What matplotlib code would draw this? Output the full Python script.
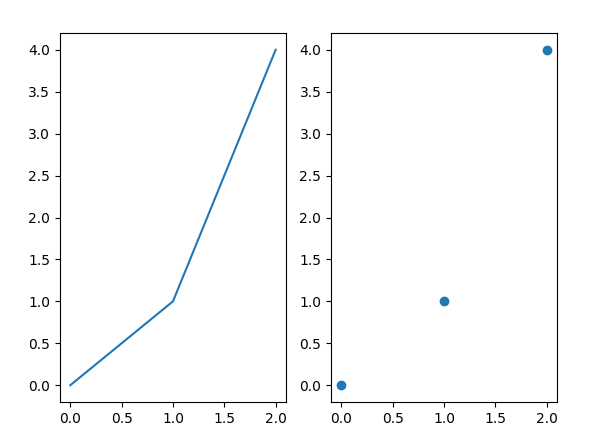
import matplotlib
matplotlib.use("Agg")
import matplotlib.pyplot as plt

# --- Données ---
x = [0, 1, 2]
y = [0, 1, 4]

# --- Figure ---
fig, (ax1, ax2) = plt.subplots(1, 2, figsize=(5.95, 4.46), dpi=100)
fig.subplots_adjust(left=60/595, right=557/595, bottom=44/446, top=413/446, wspace=0.2)

ax1.plot(x, y)
ax2.scatter(x, y)

fig.savefig("out.png", dpi=100)
